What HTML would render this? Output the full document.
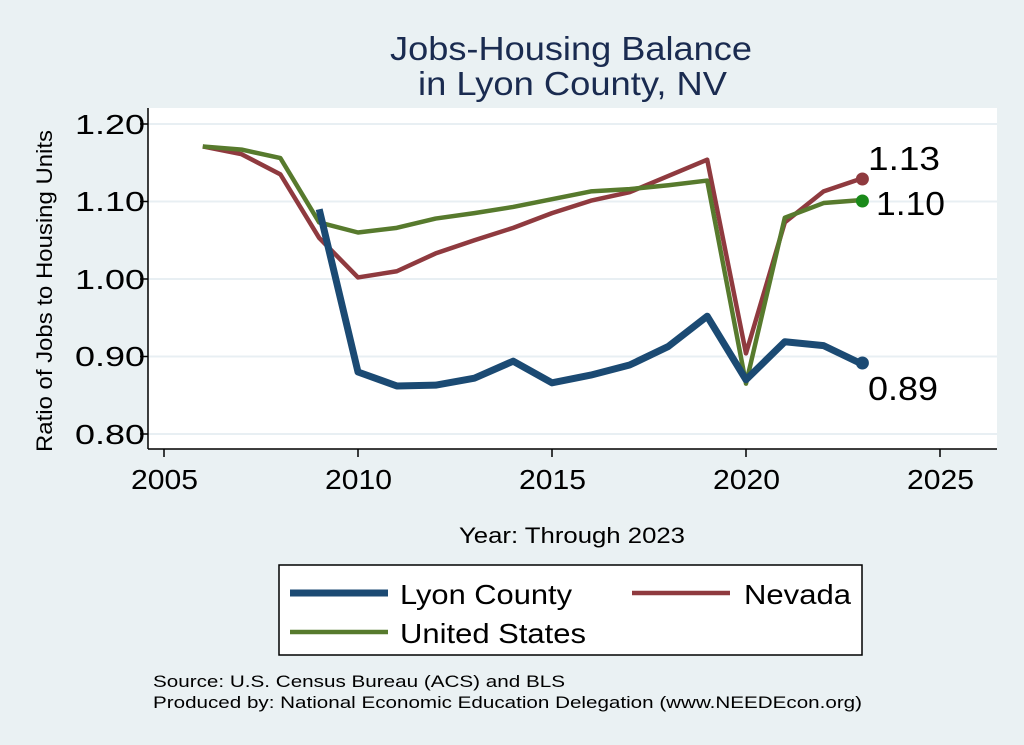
<!DOCTYPE html><html><head><style>body{margin:0;background:#eaf1f3;}svg{display:block;font-family:"Liberation Sans",sans-serif}</style></head><body>
<svg width="1024" height="745" xmlns="http://www.w3.org/2000/svg">
<rect width="1024" height="745" fill="#eaf1f3"/>
<text x="390" y="60" font-size="33" fill="#1a2b50" textLength="362" lengthAdjust="spacingAndGlyphs">Jobs-Housing Balance</text>
<text x="418" y="95" font-size="33" fill="#1a2b50" textLength="309" lengthAdjust="spacingAndGlyphs">in Lyon County, NV</text>
<rect x="148" y="108" width="849" height="341" fill="#fff"/>
<g stroke="#e8eff3" stroke-width="2">
<line x1="148" x2="997" y1="124" y2="124"/><line x1="148" x2="997" y1="201.5" y2="201.5"/><line x1="148" x2="997" y1="279" y2="279"/><line x1="148" x2="997" y1="356.5" y2="356.5"/><line x1="148" x2="997" y1="434" y2="434"/>
</g>
<g stroke="#000" stroke-width="1.5">
<line x1="148" y1="108" x2="148" y2="449"/><line x1="148" y1="449" x2="997" y2="449"/>
<line x1="140" x2="148" y1="124" y2="124"/><line x1="140" x2="148" y1="201.5" y2="201.5"/><line x1="140" x2="148" y1="279" y2="279"/><line x1="140" x2="148" y1="356.5" y2="356.5"/><line x1="140" x2="148" y1="434" y2="434"/>
<line x1="164" x2="164" y1="449" y2="457"/><line x1="358" x2="358" y1="449" y2="457"/><line x1="552" x2="552" y1="449" y2="457"/><line x1="746" x2="746" y1="449" y2="457"/><line x1="940" x2="940" y1="449" y2="457"/>
</g>
<g font-size="28" fill="#000">
<text x="75" y="134" textLength="70" lengthAdjust="spacingAndGlyphs">1.20</text><text x="75" y="211" textLength="70" lengthAdjust="spacingAndGlyphs">1.10</text><text x="75" y="289" textLength="70" lengthAdjust="spacingAndGlyphs">1.00</text><text x="75" y="366" textLength="70" lengthAdjust="spacingAndGlyphs">0.90</text><text x="75" y="444" textLength="70" lengthAdjust="spacingAndGlyphs">0.80</text>
</g>
<g font-size="28" fill="#000">
<text x="131" y="489" textLength="67" lengthAdjust="spacingAndGlyphs">2005</text><text x="325" y="489" textLength="67" lengthAdjust="spacingAndGlyphs">2010</text><text x="519" y="489" textLength="67" lengthAdjust="spacingAndGlyphs">2015</text><text x="713" y="489" textLength="67" lengthAdjust="spacingAndGlyphs">2020</text><text x="907" y="489" textLength="67" lengthAdjust="spacingAndGlyphs">2025</text>
</g>
<text transform="translate(52,452) rotate(-90)" font-size="22" textLength="322" lengthAdjust="spacingAndGlyphs">Ratio of Jobs to Housing Units</text>
<text x="459" y="543" font-size="22" textLength="226" lengthAdjust="spacingAndGlyphs">Year: Through 2023</text>
<g transform="translate(164,124) scale(38.8,-775) translate(-2005,-1.2)" fill="none" stroke-linejoin="round">
<polyline vector-effect="non-scaling-stroke" stroke="#8f3a3f" stroke-width="4.5" points="2006,1.171 2007,1.161 2008,1.135 2009,1.053 2010,1.002 2011,1.010 2012,1.033 2013,1.050 2014,1.066 2015,1.085 2016,1.101 2017,1.112 2018,1.133 2019,1.154 2020,0.904 2021,1.073 2022,1.113 2023,1.130"/>
<polyline vector-effect="non-scaling-stroke" stroke="#577a2d" stroke-width="4.5" points="2006,1.171 2007,1.167 2008,1.156 2009,1.073 2010,1.060 2011,1.066 2012,1.078 2013,1.085 2014,1.093 2015,1.103 2016,1.113 2017,1.116 2018,1.121 2019,1.127 2020,0.865 2021,1.079 2022,1.098 2023,1.102"/>
<polyline vector-effect="non-scaling-stroke" stroke="#1b4a73" stroke-width="7" points="2009,1.09 2010,0.88 2011,0.862 2012,0.863 2013,0.872 2014,0.894 2015,0.866 2016,0.876 2017,0.889 2018,0.913 2019,0.952 2020,0.870 2021,0.919 2022,0.914 2023,0.890"/>
</g>
<circle cx="862.4" cy="179" r="6.5" fill="#8f3a3f"/>
<circle cx="862.4" cy="201" r="6.5" fill="#1a8a1a"/>
<circle cx="862.4" cy="363" r="6.5" fill="#1b4a73"/>
<g font-size="33" fill="#000">
<text x="868" y="170" textLength="72" lengthAdjust="spacingAndGlyphs">1.13</text><text x="876" y="215" textLength="69" lengthAdjust="spacingAndGlyphs">1.10</text><text x="868" y="400" textLength="70" lengthAdjust="spacingAndGlyphs">0.89</text>
</g>
<rect x="279" y="565" width="583" height="90" fill="#fff" stroke="#000" stroke-width="1.5"/>
<line x1="290" x2="388" y1="593" y2="593" stroke="#1b4a73" stroke-width="7"/>
<text x="400" y="604" font-size="28" textLength="172" lengthAdjust="spacingAndGlyphs">Lyon County</text>
<line x1="632" x2="730" y1="593" y2="593" stroke="#8f3a3f" stroke-width="4.5"/>
<text x="744" y="604" font-size="28" textLength="107" lengthAdjust="spacingAndGlyphs">Nevada</text>
<line x1="290" x2="388" y1="632" y2="632" stroke="#577a2d" stroke-width="4.5"/>
<text x="400" y="643" font-size="28" textLength="186" lengthAdjust="spacingAndGlyphs">United States</text>
<text x="153" y="687" font-size="17" textLength="412" lengthAdjust="spacingAndGlyphs">Source: U.S. Census Bureau (ACS) and BLS</text>
<text x="153" y="708" font-size="17" textLength="709" lengthAdjust="spacingAndGlyphs">Produced by: National Economic Education Delegation (www.NEEDEcon.org)</text>
</svg></body></html>
